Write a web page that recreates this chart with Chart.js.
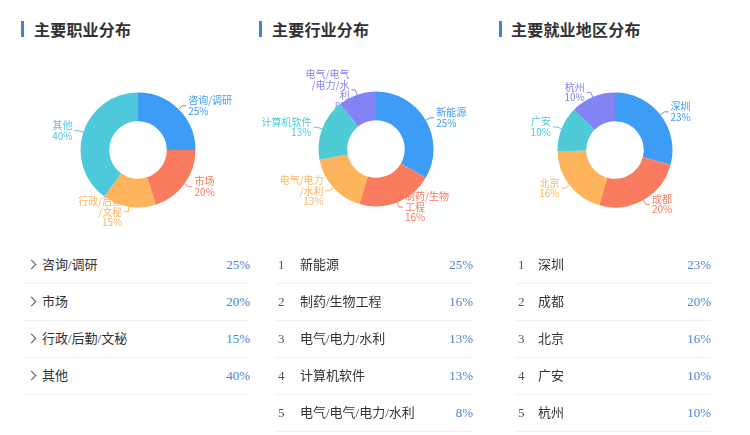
<!DOCTYPE html>
<html>
<head>
<meta charset="utf-8">
<script src="https://cdn.jsdelivr.net/npm/chart.js@4/dist/chart.umd.min.js"></script>
<style>
  html, body { margin: 0; padding: 0; background: #fff; width: 750px; height: 435px; overflow: hidden; }
  body { position: relative; font-family: "Noto Sans CJK SC", sans-serif; }
  .bar { position: absolute; width: 3px; height: 16px; background: #3b82d6; top: 21px; }
  .title { position: absolute; top: 19px; font-size: 16px; font-weight: 700; color: #333; line-height: 20px; letter-spacing: 0.2px; }
  .cw { position: absolute; width: 250px; height: 190px; }
  .list { position: absolute; top: 247px; }
  .row { position: relative; height: 36px; border-bottom: 1px solid #eef0f3; }
  .row span { position: absolute; top: 0; line-height: 36px; }
  .num { font-family: "Liberation Serif", serif; font-size: 13px; color: #555; }
  .name { font-family: "Liberation Serif", "Noto Sans CJK SC", serif; font-size: 13px; color: #333; }
  .pct { right: 0; font-family: "Liberation Serif", serif; font-size: 13px; color: #4a82d2; }
  .row i.chev { position: absolute; left: 6px; top: 14px; width: 6px; height: 6px; border-top: 1px solid #555; border-right: 1px solid #555; transform: rotate(45deg); }
</style>
</head>
<body>
<div class="bar" style="left:21px"></div><div class="title" style="left:34px">主要职业分布</div>
<div class="bar" style="left:259px"></div><div class="title" style="left:272px">主要行业分布</div>
<div class="bar" style="left:499px"></div><div class="title" style="left:511px">主要就业地区分布</div>

<div class="cw" style="left:13px;top:55px"><canvas id="c1"></canvas></div>
<div class="cw" style="left:250.5px;top:54px"><canvas id="c2"></canvas></div>
<div class="cw" style="left:489.5px;top:54.5px"><canvas id="c3"></canvas></div>

<div class="list" id="l1" style="left:22px;width:228px"></div>
<div class="list" id="l2" style="left:275px;width:198px"></div>
<div class="list" id="l3" style="left:515px;width:196px"></div>

<script>
// ---- data ----
const jobCategories = ['咨询/调研', '市场', '行政/后勤/文秘', '其他'];
const jobValues = [25, 20, 15, 40];
const jobLabelLines = [['咨询/调研'], ['市场'], ['行政/后勤', '/文秘'], ['其他']];

const industryCategories = ['新能源', '制药/生物工程', '电气/电力/水利', '计算机软件', '电气/电气/电力/水利'];
const industryValues = [25, 16, 13, 13, 8];
const industryLabelLines = [['新能源'], ['制药/生物', '工程'], ['电气/电力', '/水利'], ['计算机软件'], ['电气/电气', '/电力/水', '利']];

const regionCategories = ['深圳', '成都', '北京', '广安', '杭州'];
const regionValues = [23, 20, 16, 10, 10];
const regionLabelLines = [['深圳'], ['成都'], ['北京'], ['广安'], ['杭州']];

const palette = ['#3d9cf6', '#f97b60', '#fdb45c', '#4ecbd6', '#8383f6'];
const jobColors = ['#3d9cf6', '#f97b60', '#fdb45c', '#4ec9dc'];

// ---- outside labels with leader lines ----
const outLabels = {
  id: 'outLabels',
  beforeDatasetsDraw(chart, args, opts) {
    const ctx = chart.ctx;
    const meta = chart.getDatasetMeta(0);
    const ds = chart.data.datasets[0];
    ctx.save();
    ctx.font = '10px "Noto Sans CJK SC", sans-serif';
    ctx.textBaseline = 'middle';
    meta.data.forEach((arc, i) => {
      const p = arc.getProps(['x', 'y', 'startAngle', 'endAngle', 'outerRadius'], true);
      const mid = (p.startAngle + p.endAngle) / 2;
      const dx = Math.cos(mid), dy = Math.sin(mid);
      const R = p.outerRadius;
      const x0 = p.x + dx * R, y0 = p.y + dy * R;
      const x1 = p.x + dx * (R + 5), y1 = p.y + dy * (R + 5);
      const side = dx >= 0 ? 1 : -1;
      const x2 = x1 + side * 4;
      const col = ds.backgroundColor[i];
      ctx.strokeStyle = col;
      ctx.lineWidth = 1;
      ctx.beginPath();
      ctx.moveTo(x0, y0); ctx.lineTo(x1, y1); ctx.lineTo(x2, y1);
      ctx.stroke();
      const lines = opts.lines[i].concat([ds.data[i] + '%']);
      const lh = 10.5;
      const top = y1 - (lines.length - 1) * lh / 2;
      ctx.fillStyle = col;
      ctx.textAlign = side > 0 ? 'left' : 'right';
      lines.forEach((t, k) => ctx.fillText(t, x2 + side * 2, top + k * lh));
    });
    ctx.restore();
  }
};

function makeDoughnut(id, cats, vals, colors, lines) {
  new Chart(document.getElementById(id), {
    type: 'doughnut',
    data: { labels: cats, datasets: [{ data: vals, backgroundColor: colors, borderWidth: 0, hoverOffset: 0 }] },
    options: {
      responsive: true, maintainAspectRatio: false, animation: false, events: [],
      cutout: '50%',
      layout: { padding: { left: 67.5, right: 67.5, top: 37.5, bottom: 37.5 } },
      plugins: { legend: { display: false }, tooltip: { enabled: false }, outLabels: { lines: lines } }
    },
    plugins: [outLabels]
  });
}

makeDoughnut('c1', jobCategories, jobValues, jobColors, jobLabelLines);
makeDoughnut('c2', industryCategories, industryValues, palette, industryLabelLines);
makeDoughnut('c3', regionCategories, regionValues, palette, regionLabelLines);

// ---- lists ----
function makeList(id, cats, vals, numbered, nameLeft) {
  const el = document.getElementById(id);
  cats.forEach((c, i) => {
    const row = document.createElement('div');
    row.className = 'row';
    const lead = numbered
      ? '<span class="num" style="left:3px">' + (i + 1) + '</span>'
      : '<i class="chev"></i>';
    row.innerHTML = lead + '<span class="name" style="left:' + nameLeft + 'px">' + c + '</span><span class="pct">' + vals[i] + '%</span>';
    el.appendChild(row);
  });
}
makeList('l1', jobCategories, jobValues, false, 20);
makeList('l2', industryCategories, industryValues, true, 25);
makeList('l3', regionCategories, regionValues, true, 23);
</script>
</body>
</html>
